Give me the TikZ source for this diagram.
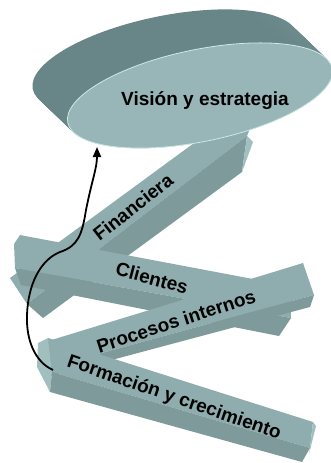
\documentclass[tikz,border=0pt]{standalone}
\usepackage{fontspec}
\usepackage{xcolor}
\usepackage{tikz}
\usetikzlibrary{arrows.meta, calc}

\newfontfamily\diagfont{Liberation Sans}

\definecolor{discfront}{HTML}{98B5B7}
\definecolor{discrim}{HTML}{CFE8E8}
\definecolor{sidelight}{HTML}{B2D2D2}
\definecolor{sidemid}{HTML}{86A5A7}
\definecolor{sidedark}{HTML}{688587}
\definecolor{sideright}{HTML}{829FA0}
\definecolor{beamtop}{HTML}{8FADAE}
\definecolor{beamside}{HTML}{7E9A9B}
\definecolor{beamcap}{HTML}{A2BFC0}

\pgfdeclarehorizontalshading{discside}{100bp}{color(0bp)=(sidelight); color(7bp)=(sidemid); color(20bp)=(sidedark); color(65bp)=(sidedark); color(100bp)=(sideright)}

\begin{document}
\begin{tikzpicture}[x=1pt, y=-1pt]
    \tikzstyle{topface} = [fill=beamtop]
    \tikzstyle{sideface} = [fill=beamside]
    \tikzstyle{capface} = [fill=beamcap]
    \tikzstyle{beamtext} = [font=\diagfont\bfseries\fontsize{19}{21}\selectfont, inner sep=0pt]
    \tikzstyle{line} = [draw, line width=1.8pt, -{Triangle[length=10pt,width=8pt]}]

    \clip (0,0) rectangle (331,463);

    % Financiera
    \fill[topface] (10,278) -- (265,91) -- (247,136) -- (27,304) -- cycle;
    \fill[sideface] (27,304) -- (247,136) -- (242,172) -- (43,318) -- cycle;
    \fill[capface] (247,136) -- (253,142) -- (242,172) -- cycle;
    \node[beamtext, rotate=38] (financiera) at (133,207) {Financiera};

    % Vision y estrategia
    \coordinate (vback) at (165,62);
    \coordinate (vfront) at (200,95.5);
    \foreach \k in {0,...,30}{
        \begin{scope}[shift={($(vback)!\k/30!(vfront)$)}, rotate=11.6]
            \shade[shading=discside] (0,0) ellipse [x radius=135, y radius=46];
        \end{scope}
    }
    \begin{scope}[shift={(vfront)}, rotate=11.6]
        \fill[discfront, draw=discrim, line width=0.8pt] (0,0) ellipse [x radius=135, y radius=46];
    \end{scope}
    \node[beamtext, anchor=base] (vision) at (205,105) {Visión y estrategia};

    % Clientes
    \fill[topface] (20,235) -- (290,286) -- (291,318) -- (15,268) -- (14,244) -- cycle;
    \fill[sideface] (15,268) -- (291,318) -- (279,336) -- (21,285) -- cycle;
    \node[beamtext, rotate=-15] (clientes) at (152,278) {Clientes};

    % Procesos internos
    \fill[topface] (45,342) -- (303,263) -- (314,295) -- (47,368) -- cycle;
    \fill[sideface] (47,368) -- (314,295) -- (310,307) -- (48,377) -- cycle;
    \node[beamtext, rotate=18] (procesos) at (176,321) {Procesos internos};

    % Formacion y crecimiento
    \fill[capface] (48,338) -- (38,343) -- (37,367) -- (50,392) -- (52,372) -- cycle;
    \fill[topface] (48,338) -- (313,422) -- (310,448) -- (52,372) -- cycle;
    \fill[sideface] (52,372) -- (310,448) -- (302,462) -- (50,392) -- cycle;
    \fill[capface] (313,422) -- (316,426) -- (309,454) -- (310,448) -- cycle;
    \node[beamtext, rotate=-19] (formacion) at (174,398) {Formación y crecimiento};

    % feedback arrow
    \coordinate (arrstart) at (53,370);
    \coordinate (arrend) at (97,147);
    \path[line] (arrstart) .. controls (35,362) and (26,340) .. (27,315)
        .. controls (28,285) and (40,260) .. (60,252)
        .. controls (78,246) and (82,235) .. (86,210)
        .. controls (92,180) and (97,168) .. (arrend);
\end{tikzpicture}
\end{document}
